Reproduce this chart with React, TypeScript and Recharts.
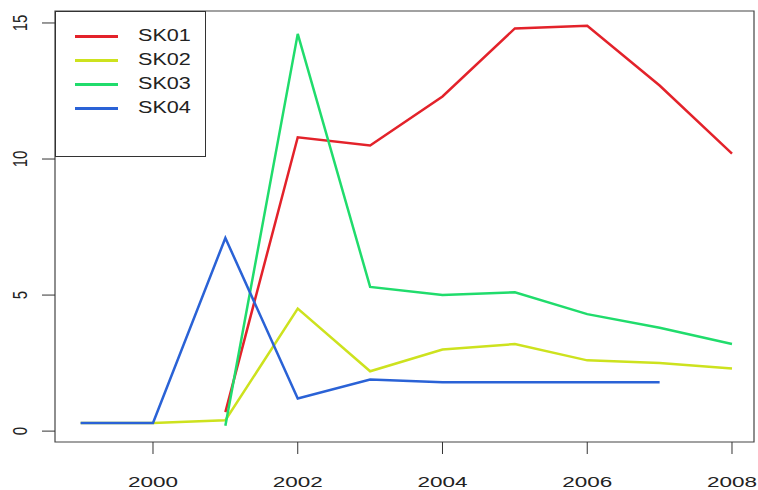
import { LineChart, Line, XAxis, YAxis, ReferenceArea } from 'recharts';

const years = [1999, 2000, 2001, 2002, 2003, 2004, 2005, 2006, 2007, 2008];
const sk01 = [null, null, 0.7, 10.8, 10.5, 12.3, 14.8, 14.9, 12.7, 10.2];
const sk02 = [0.3, 0.3, 0.4, 4.5, 2.2, 3.0, 3.2, 2.6, 2.5, 2.3];
const sk03 = [null, null, 0.2, 14.6, 5.3, 5.0, 5.1, 4.3, 3.8, 3.2];
const sk04 = [0.3, 0.3, 7.1, 1.2, 1.9, 1.8, 1.8, 1.8, 1.8, null];

const xTicks = [2000, 2002, 2004, 2006, 2008];
const yTicks = [0, 5, 10, 15];

const seriesNames = ['SK01', 'SK02', 'SK03', 'SK04'];
const seriesColors = ['#e3222a', '#cde21e', '#20dc6c', '#2a62d6'];

const data = years.map((year, i) => ({
  year,
  SK01: sk01[i],
  SK02: sk02[i],
  SK03: sk03[i],
  SK04: sk04[i],
}));

const FONT = '"Liberation Sans", Arial, sans-serif';
const X_DOMAIN: [number, number] = [1998.646, 2008.304];
const Y_DOMAIN: [number, number] = [-0.4, 15.44];

// the source picture is stretched sideways, so text is widened to match
function XTick(props: any) {
  const { x, payload } = props;
  return (
    <text
      transform={`translate(${x}, 487) scale(1.5, 1)`}
      textAnchor="middle"
      fontSize={15}
      fontFamily={FONT}
      fill="#222"
    >
      {payload.value}
    </text>
  );
}

function YTick(props: any) {
  const { y, payload } = props;
  return (
    <text
      transform={`translate(27, ${y}) scale(1.4, 1) rotate(-90)`}
      textAnchor="middle"
      fontSize={15}
      fontFamily={FONT}
      fill="#222"
    >
      {payload.value}
    </text>
  );
}

function LegendBox() {
  return (
    <div
      style={{
        position: 'absolute',
        left: 55,
        top: 11,
        width: 151,
        height: 146,
        border: '1px solid #333',
        boxSizing: 'border-box',
        background: '#fff',
        fontFamily: FONT,
        fontSize: 16,
        color: '#222',
      }}
    >
      {seriesNames.map((name, i) => (
        <div key={name}>
          <div
            style={{
              position: 'absolute',
              left: 19,
              top: 23 + i * 24,
              width: 43,
              height: 2.5,
              background: seriesColors[i],
            }}
          />
          <span
            style={{
              position: 'absolute',
              left: 82,
              top: 14 + i * 24,
              lineHeight: '20px',
              transform: 'scaleX(1.35)',
              transformOrigin: 'left center',
            }}
          >
            {name}
          </span>
        </div>
      ))}
    </div>
  );
}

export default function App() {
  return (
    <div style={{ position: 'absolute', left: 0, top: 0, width: 758, height: 490, background: '#fff' }}>
      <LineChart width={758} height={490} data={data} margin={{ top: 11, right: 4, left: 0, bottom: 0 }}>
        <XAxis
          dataKey="year"
          type="number"
          domain={X_DOMAIN}
          ticks={xTicks}
          allowDataOverflow
          axisLine={false}
          tickLine={{ stroke: '#333' }}
          tickSize={12}
          height={48}
          tick={<XTick />}
        />
        <YAxis
          type="number"
          domain={Y_DOMAIN}
          ticks={yTicks}
          allowDataOverflow
          axisLine={false}
          tickLine={{ stroke: '#333' }}
          tickSize={13}
          width={55}
          tick={<YTick />}
        />
        <ReferenceArea
          x1={X_DOMAIN[0]}
          x2={X_DOMAIN[1]}
          y1={Y_DOMAIN[0]}
          y2={Y_DOMAIN[1]}
          fill="none"
          stroke="#444"
          strokeWidth={1.2}
          ifOverflow="visible"
        />
        {seriesNames.map((name, i) => (
          <Line
            key={name}
            type="linear"
            dataKey={name}
            stroke={seriesColors[i]}
            strokeWidth={2.5}
            dot={false}
            connectNulls={false}
            isAnimationActive={false}
          />
        ))}
      </LineChart>
      <LegendBox />
    </div>
  );
}
